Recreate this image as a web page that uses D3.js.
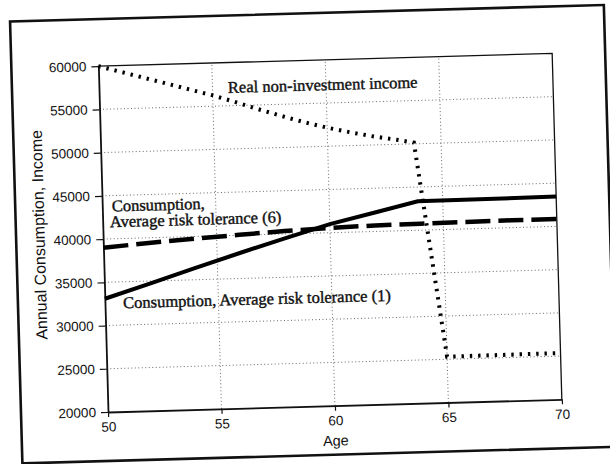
<!DOCTYPE html>
<html><head><meta charset="utf-8">
<script src="https://cdn.jsdelivr.net/npm/d3@7"></script>
<style>body{margin:0;background:#fff}svg{display:block}</style>
</head><body>
<svg id="c" width="610" height="464"></svg>
<script>
// ---- data ----
const incomeAges   = [50, 51, 52, 53, 54, 55, 56, 57, 58, 59, 60, 61, 62, 63, 63.8, 65, 70];
const incomeValues = [60000, 59250, 58500, 57750, 57000, 56250, 55400, 54500, 53650, 52850, 52150, 51550, 51000, 50550, 50150, 25300, 25350];
const cons1Ages    = [50, 52, 54, 56, 58, 60, 62, 63.9, 70];
const cons1Values  = [33100, 34700, 36350, 37950, 39500, 41000, 42200, 43350, 43450];
const cons6Ages    = [50, 52, 54, 56, 58, 60, 62, 64, 66, 68, 70];
const cons6Values  = [39000, 39400, 39750, 40050, 40350, 40550, 40700, 40750, 40800, 40850, 40850];
const xTicks = [50, 55, 60, 65, 70];
const yTicks = [20000, 25000, 30000, 35000, 40000, 45000, 50000, 55000, 60000];
const xTitle = "Age";
const yTitle = "Annual Consumption, Income";
const labels = [
  {text: "Real non-investment income", age: 55.68, value: 56490},
  {text: "Consumption,", age: 50.42, value: 43150},
  {text: "Average risk tolerance (6)", age: 50.32, value: 41340},
  {text: "Consumption, Average risk tolerance (1)", age: 50.8, value: 31940}
];

// ---- chart ----
const svg = d3.select("#c");
const g = svg.append("g").attr("transform", "rotate(-1.6,108,412)");
const x = d3.scaleLinear().domain([50, 70]).range([108, 562]);
const y = d3.scaleLinear().domain([20000, 60000]).range([412, 66]);

// outer frame
g.append("rect").attr("x", 21).attr("y", 19).attr("width", 594).attr("height", 442)
  .attr("fill", "none").attr("stroke", "#111").attr("stroke-width", 2.6);

// grid
g.append("g").selectAll("line").data(yTicks.filter(v => v > 20000 && v < 60000)).join("line")
  .attr("x1", x(50)).attr("x2", x(70)).attr("y1", d => y(d)).attr("y2", d => y(d))
  .attr("stroke", "#444").attr("stroke-width", 0.8).attr("stroke-dasharray", "1,2.5");
g.append("g").selectAll("line").data(xTicks.filter(v => v > 50 && v < 70)).join("line")
  .attr("y1", y(20000)).attr("y2", y(60000)).attr("x1", d => x(d)).attr("x2", d => x(d))
  .attr("stroke", "#444").attr("stroke-width", 0.8).attr("stroke-dasharray", "1,2.5");

// box top/right
g.append("path").attr("d", `M${x(50)},${y(60000)}H${x(70)}V${y(20000)}`)
  .attr("fill", "none").attr("stroke", "#111").attr("stroke-width", 1.3);

// axes
const fmt = d3.format("d");
const yAxis = g.append("g").attr("transform", `translate(${x(50)},0)`)
  .call(d3.axisLeft(y).tickValues(yTicks).tickFormat(fmt).tickSize(7).tickPadding(5).tickSizeOuter(0));
const xAxis = g.append("g").attr("transform", `translate(0,${y(20000)})`)
  .call(d3.axisBottom(x).tickValues(xTicks).tickFormat(fmt).tickSize(5).tickPadding(5).tickSizeOuter(0));
[yAxis, xAxis].forEach(a => {
  a.selectAll("text").attr("font-family", "Liberation Sans, Arial, sans-serif").attr("font-size", 13.5).attr("fill", "#111");
  a.selectAll("line").attr("stroke", "#111").attr("stroke-width", 1.2);
  a.select(".domain").attr("stroke", "#111").attr("stroke-width", 1.8);
});

// titles
g.append("text").attr("x", x(60)).attr("y", 452).attr("text-anchor", "middle")
  .attr("font-family", "Liberation Sans, Arial, sans-serif").attr("font-size", 14.5).attr("fill", "#111").text(xTitle);
g.append("text").attr("transform", "translate(44,233) rotate(-90)").attr("text-anchor", "middle")
  .attr("dy", "0.35em")
  .attr("font-family", "Liberation Sans, Arial, sans-serif").attr("font-size", 16).attr("fill", "#111").text(yTitle);

// lines
const line = d3.line().x(d => x(d[0])).y(d => y(d[1]));
g.append("path").datum(d3.zip(cons6Ages, cons6Values)).attr("d", line)
  .attr("fill", "none").attr("stroke", "#000").attr("stroke-width", 4.5).attr("stroke-dasharray", "25,8");
g.append("path").datum(d3.zip(cons1Ages, cons1Values)).attr("d", line)
  .attr("fill", "none").attr("stroke", "#000").attr("stroke-width", 4);
g.append("path").datum(d3.zip(incomeAges, incomeValues)).attr("d", line)
  .attr("fill", "none").attr("stroke", "#000").attr("stroke-width", 4).attr("stroke-dasharray", "2.4,5.9");

// annotations
g.append("g").selectAll("text").data(labels).join("text")
  .attr("x", d => x(d.age)).attr("y", d => y(d.value))
  .attr("font-family", "Liberation Serif, Times New Roman, serif").attr("font-size", 16.5)
  .attr("fill", "#111").attr("stroke", "#111").attr("stroke-width", 0.4)
  .text(d => d.text);
</script>
</body></html>
